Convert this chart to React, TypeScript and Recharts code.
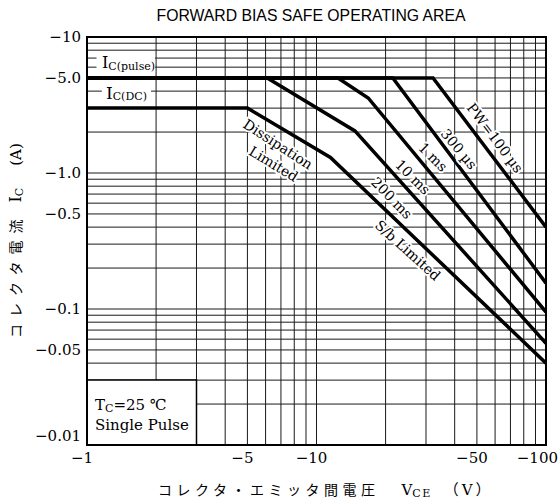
import React from 'react';
import {
  LineChart,
  Line,
  XAxis,
  YAxis,
  CartesianGrid,
  ReferenceArea,
  ReferenceDot,
  Label,
} from 'recharts';

// ---------- data ----------
const chartTitle = 'FORWARD BIAS SAFE OPERATING AREA';

const xGridTicks = [1, 2, 3, 4, 5, 6, 7, 8, 9, 10, 20, 30, 40, 50, 60, 70, 80, 90, 100];
const xTickValues = [1, 5, 10, 50, 100];
const xTickTexts = ['−1', '−5', '−10', '−50', '−100'];

const yGridTicks = [
  0.01, 0.02, 0.03, 0.04, 0.05, 0.06, 0.07, 0.08, 0.09,
  0.1, 0.2, 0.3, 0.4, 0.5, 0.6, 0.7, 0.8, 0.9,
  1, 2, 3, 4, 5, 6, 7, 8, 9, 10,
];
const yTickValues = [0.01, 0.05, 0.1, 0.5, 1, 5, 10];
const yTickTexts = ['−0.01', '−0.05', '−0.1', '−0.5', '−1.0', '−5.0', '−10'];

// curves: V_CE (V) and I_C (A), absolute values
const dcVce = [1, 5, 11.5, 100];
const dcIc = [3, 3, 1.3, 0.04];
const pw200msVce = [1, 6.1, 14.7, 100];
const pw200msIc = [5, 5, 2.04, 0.056];
const pw10msVce = [1, 12.4, 16.8, 100];
const pw10msIc = [5, 5, 3.56, 0.095];
const pw1msVce = [1, 21.5, 100];
const pw1msIc = [5, 5, 0.155];
const pw100usVce = [1, 32.2, 100];
const pw100usIc = [5, 5, 0.4];

const curves = [
  { name: 'DC', v: dcVce, i: dcIc },
  { name: '200 ms', v: pw200msVce, i: pw200msIc },
  { name: '10 ms', v: pw10msVce, i: pw10msIc },
  { name: '1 ms', v: pw1msVce, i: pw1msIc },
  { name: '100 µs', v: pw100usVce, i: pw100usIc },
];

// rotated annotations anchored in data coordinates
const annotations = [
  { text: 'Dissipation', v: 6.8, i: 1.63, angle: 33 },
  { text: 'Limited', v: 6.5, i: 1.17, angle: 31 },
  { text: '200 ms', v: 21.3, i: 0.655, angle: 46 },
  { text: '10 ms', v: 26.3, i: 0.934, angle: 45 },
  { text: '1 ms', v: 32.2, i: 1.31, angle: 45 },
  { text: '300 µs', v: 41.8, i: 1.5, angle: 50 },
  { text: 'PW=100 µs', v: 60, i: 1.81, angle: 53 },
  { text: 'S/b Limited', v: 25, i: 0.27, angle: 42 },
];

// ---------- helpers ----------
const serif = "'DejaVu Serif', 'Noto Sans CJK JP', serif";
const W = 559;
const H = 503;

const toPoints = (v: number[], i: number[]) => v.map((x, k) => ({ v: x, i: i[k] }));

const xLabelOf = (val: number) => {
  const k = xTickValues.indexOf(val);
  return k >= 0 ? xTickTexts[k] : '';
};
const yLabelOf = (val: number) => {
  const k = yTickValues.indexOf(val);
  return k >= 0 ? yTickTexts[k] : '';
};

const XTick = (props: any) => {
  const { x, y, payload } = props;
  const t = xLabelOf(payload.value);
  if (!t) return null;
  const last = payload.value === 100;
  return (
    <text
      x={last ? x + 12 : x - 5}
      y={y + 18}
      textAnchor={last ? 'end' : 'middle'}
      fontFamily={serif}
      fontSize={15}
      fill="#000"
    >
      {t}
    </text>
  );
};

const YTick = (props: any) => {
  const { x, y, payload } = props;
  const t = yLabelOf(payload.value);
  if (!t) return null;
  const lift = payload.value === 0.01 ? 9 : 0;
  return (
    <text x={x - 6} y={y + 5 - lift} textAnchor="end" fontFamily={serif} fontSize={15} fill="#000">
      {t}
    </text>
  );
};

const rotatedText = (text: string, angle: number) => (p: any) => (
  <text
    x={p.cx}
    y={p.cy}
    transform={`rotate(${angle} ${p.cx} ${p.cy})`}
    textAnchor="middle"
    dominantBaseline="central"
    fontFamily={serif}
    fontSize={14}
    fill="#000"
    stroke="#fff"
    strokeWidth={4}
    strokeLinejoin="round"
    paintOrder="stroke"
  >
    {text}
  </text>
);

const icPulseShape = (p: any) => (
  <text x={p.cx} y={p.cy} fontFamily={serif} fontSize={16} fill="#000">
    I
    <tspan fontSize={11} dy={2}>C(pulse)</tspan>
  </text>
);

const icDcShape = (p: any) => (
  <text x={p.cx} y={p.cy} fontFamily={serif} fontSize={17} fill="#000">
    I
    <tspan fontSize={11} dy={1}>C(DC)</tspan>
  </text>
);

const conditionShape = (p: any) => (
  <g>
    <text x={p.cx} y={p.cy} fontFamily={serif} fontSize={15} fill="#000">
      T
      <tspan fontSize={11} dy={2}>C</tspan>
      <tspan dy={-2}>=25 ℃</tspan>
    </text>
    <text x={p.cx} y={p.cy + 20} fontFamily={serif} fontSize={15} fill="#000">
      Single Pulse
    </text>
  </g>
);

const XTitle = (props: any) => {
  const vb = props.viewBox || { x: 87, y: 445 };
  const x0 = vb.x + 71;
  const y0 = vb.y + 50;
  return (
    <text x={x0} y={y0} fontFamily={serif} fontSize={14} fill="#000">
      <tspan letterSpacing={4.5}>コレクタ・エミッタ間電圧</tspan>
      <tspan dx={22} fontSize={15}>V</tspan>
      <tspan fontSize={11} dy={2} letterSpacing={1.5}>CE</tspan>
      <tspan dy={-2} dx={12} fontSize={15} letterSpacing={3}>（V）</tspan>
    </text>
  );
};

const YTitle = (props: any) => {
  const vb = props.viewBox || { x: 0, y: 37 };
  const x0 = vb.x + 21;
  const y0 = vb.y + 301;
  return (
    <text
      x={x0}
      y={y0}
      transform={`rotate(-90 ${x0} ${y0})`}
      fontFamily={serif}
      fontSize={14}
      fill="#000"
    >
      <tspan letterSpacing={7}>コレクタ電流</tspan>
      <tspan dx={10} fontSize={16}>I</tspan>
      <tspan fontSize={11} dy={2}>C</tspan>
      <tspan dy={-2} dx={22} fontSize={15}>(A)</tspan>
    </text>
  );
};

export default function App() {
  return (
    <div style={{ position: 'absolute', left: 0, top: 0, width: W, height: H, background: '#fff' }}>
      <LineChart width={W} height={H} margin={{ top: 37, right: 13, bottom: 0, left: 0 }}>
        <CartesianGrid stroke="#1a1a1a" strokeWidth={1} />
        <XAxis
          dataKey="v"
          type="number"
          scale="log"
          domain={[1, 100]}
          ticks={xGridTicks}
          interval={0}
          allowDataOverflow
          height={58}
          tickLine={false}
          tickSize={0}
          tickMargin={0}
          axisLine={{ stroke: '#000', strokeWidth: 2 }}
          tick={<XTick />}
        >
          <Label content={<XTitle />} />
        </XAxis>
        <YAxis
          dataKey="i"
          type="number"
          scale="log"
          domain={[0.01, 10]}
          ticks={yGridTicks}
          interval={0}
          allowDataOverflow
          width={87}
          tickLine={false}
          tickSize={0}
          tickMargin={0}
          axisLine={{ stroke: '#000', strokeWidth: 2 }}
          tick={<YTick />}
        >
          <Label content={<YTitle />} />
        </YAxis>

        <ReferenceArea x1={1} x2={100} y1={0.01} y2={10} fill="none" stroke="#000" strokeWidth={2} />
        <ReferenceArea x1={1} x2={3} y1={0.01} y2={0.03} fill="#fff" fillOpacity={1} stroke="#000" strokeWidth={1.5} />
        <ReferenceArea x1={1.1} x2={1.98} y1={5.5} y2={7.5} fill="#fff" fillOpacity={1} stroke="none" />
        <ReferenceArea x1={1.16} x2={1.9} y1={3.35} y2={4.6} fill="#fff" fillOpacity={1} stroke="none" />

        {curves.map((c) => (
          <Line
            key={c.name}
            data={toPoints(c.v, c.i)}
            dataKey="i"
            type="linear"
            stroke="#000"
            strokeWidth={3.5}
            dot={false}
            activeDot={false}
            isAnimationActive={false}
          />
        ))}

        {annotations.map((a) => (
          <ReferenceDot key={a.text} x={a.v} y={a.i} r={1} shape={rotatedText(a.text, a.angle)} />
        ))}
        <ReferenceDot x={1.162} y={5.91} r={1} shape={icPulseShape} />
        <ReferenceDot x={1.21} y={3.5} r={1} shape={icDcShape} />
        <ReferenceDot x={1.083} y={0.018} r={1} shape={conditionShape} />
      </LineChart>
      <svg
        width={W}
        height={30}
        style={{ position: 'absolute', left: 0, top: 0, pointerEvents: 'none' }}
      >
        <text
          x={311}
          y={21}
          textAnchor="middle"
          fontFamily="'Liberation Sans', Arial, sans-serif"
          fontSize={17}
          textLength={309}
          lengthAdjust="spacingAndGlyphs"
          fill="#000"
        >
          {chartTitle}
        </text>
      </svg>
    </div>
  );
}
